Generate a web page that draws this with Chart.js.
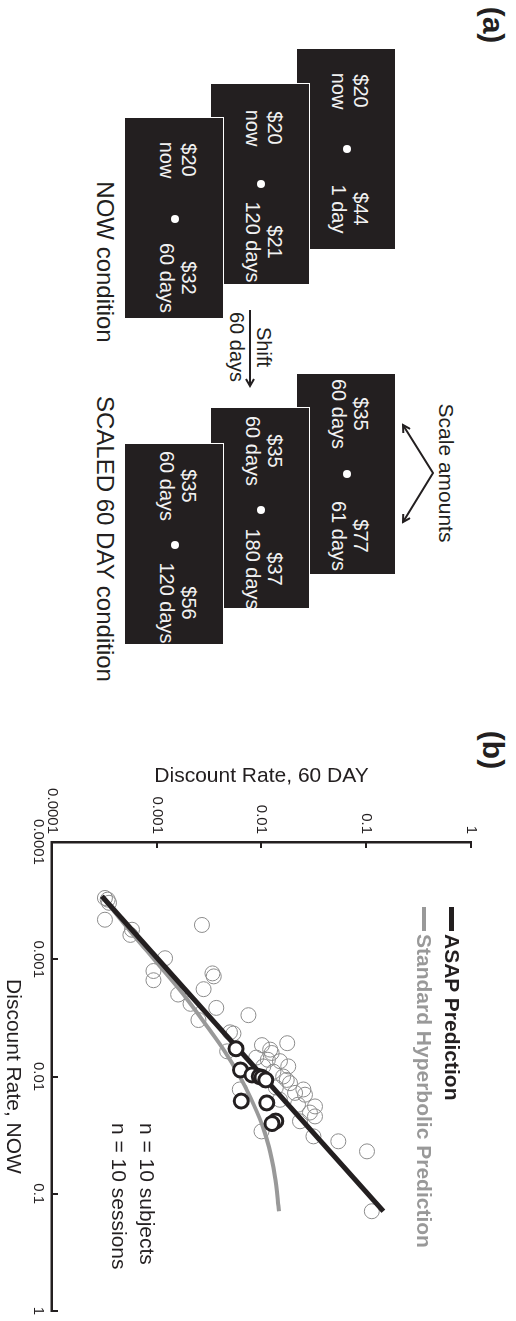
<!DOCTYPE html>
<html>
<head>
<meta charset="utf-8">
<script src="https://cdn.jsdelivr.net/npm/chart.js@4.4.1/dist/chart.umd.min.js"></script>
<style>
  html, body { margin: 0; padding: 0; background: #fff; overflow: hidden; }
  body { width: 516px; height: 1321px; position: relative; font-family: "Liberation Sans", Arial, Helvetica, sans-serif; color: #231f20; }
  /* the figure is laid out landscape, then turned a quarter clockwise */
  #fig { position: absolute; left: 0; top: 0; width: 1321px; height: 516px; transform-origin: 0 0; transform: translate(516px, 0) rotate(90deg); }
  .t { position: absolute; white-space: nowrap; line-height: 1; }
  .c { transform: translate(-50%, -50%); }
  .l { transform: translateY(-50%); }
  .panel { font-weight: bold; font-size: 30px; }
  .box { position: absolute; width: 202px; height: 100px; background: #231f20; box-sizing: border-box; border: 1.5px solid #fff; }
  .col { position: absolute; top: 23px; width: 100px; margin-left: -50px; text-align: center; color: #f2f2f2; font-size: 20px; line-height: 22px; }
  .dot { position: absolute; top: 44px; width: 8px; height: 8px; margin-left: -4px; border-radius: 50%; background: #fff; }
  .bar { position: absolute; left: 907px; width: 24px; }
  #rates { position: absolute; left: 700px; top: 0; width: 621px; height: 516px; }
</style>
</head>
<body>
<div id="fig">
  <div class="t c panel" style="left:25px;top:23px">(a)</div>
  <div class="t c panel" style="left:750px;top:23px">(b)</div>

  <!-- NOW condition -->
  <div class="box" style="left:48px;top:120px">
    <div class="col" style="left:42px">$20<br>now</div>
    <div class="dot" style="left:100px"></div>
    <div class="col" style="left:160px">$44<br>1 day</div>
  </div>
  <div class="box" style="left:83px;top:206px">
    <div class="col" style="left:44px">$20<br>now</div>
    <div class="dot" style="left:100px"></div>
    <div class="col" style="left:158px">$21<br>120 days</div>
  </div>
  <div class="box" style="left:117px;top:292px">
    <div class="col" style="left:42px">$20<br>now</div>
    <div class="dot" style="left:101px"></div>
    <div class="col" style="left:160px">$32<br>60 days</div>
  </div>
  <div class="t c" style="left:262px;top:411px;font-size:24px">NOW condition</div>

  <!-- shift arrow -->
  <div class="t c" style="left:347px;top:252px;font-size:20px">Shift</div>
  <div class="t c" style="left:347px;top:279px;font-size:20px">60 days</div>

  <!-- SCALED 60 DAY condition -->
  <div class="t c" style="left:473px;top:70px;font-size:21px">Scale amounts</div>
  <div class="box" style="left:373px;top:120px">
    <div class="col" style="left:40px">$35<br>60 days</div>
    <div class="dot" style="left:100px"></div>
    <div class="col" style="left:162px">$77<br>61 days</div>
  </div>
  <div class="box" style="left:407px;top:206px">
    <div class="col" style="left:43px">$35<br>60 days</div>
    <div class="dot" style="left:102px"></div>
    <div class="col" style="left:161px">$37<br>180 days</div>
  </div>
  <div class="box" style="left:443px;top:292px">
    <div class="col" style="left:42px">$35<br>60 days</div>
    <div class="dot" style="left:101px"></div>
    <div class="col" style="left:159px">$56<br>120 days</div>
  </div>
  <div class="t l" style="left:396px;top:411px;font-size:24px">SCALED 60 DAY condition</div>

  <svg width="1321" height="516" style="position:absolute;left:0;top:0;overflow:visible">
    <defs>
      <marker id="head" markerWidth="10" markerHeight="10" refX="8" refY="5" orient="auto-start-reverse" markerUnits="userSpaceOnUse">
        <path d="M1,1 L8,5 L1,9" fill="none" stroke="#231f20" stroke-width="2"/>
      </marker>
    </defs>
    <polyline points="425,113 473,83 522,113" fill="none" stroke="#231f20" stroke-width="2" marker-start="url(#head)" marker-end="url(#head)"/>
    <line x1="310" y1="266" x2="386" y2="266" stroke="#231f20" stroke-width="2" marker-end="url(#head)"/>
  </svg>

  <canvas id="rates" width="621" height="516"></canvas>

  <!-- legend and counts for panel (b) -->
  <div class="bar" style="top:61.5px;height:5px;background:#231f20"></div>
  <div class="t l" style="left:934px;top:63px;font-size:21px;font-weight:bold">ASAP Prediction</div>
  <div class="bar" style="top:90px;height:4px;background:#999"></div>
  <div class="t l" style="left:934px;top:91px;font-size:21px;font-weight:bold;color:#999">Standard Hyperbolic Prediction</div>
  <div class="t l" style="left:1123px;top:368px;font-size:21px">n = 10 subjects</div>
  <div class="t l" style="left:1123px;top:396px;font-size:21px">n = 10 sessions</div>
</div>

<script>
// ------------------------------------------------------------
// Discount rates: NOW condition (x) vs SCALED 60 DAY condition (y)
// ------------------------------------------------------------
const tickValues = [0.0001, 0.001, 0.01, 0.1, 1];
const tickLabels = ["0.0001", "0.001", "0.01", "0.1", "1"];

// single sessions (thin grey circles)
const sessionNow = [0.00030, 0.00031, 0.00033, 0.00046, 0.00056, 0.00062, 0.00051, 0.00098, 0.00126, 0.00151,
  0.00132, 0.0014, 0.0018, 0.0020, 0.0024, 0.0033, 0.0026, 0.0030, 0.0042, 0.0043,
  0.0061, 0.0054, 0.0059, 0.0063, 0.0052, 0.0074, 0.0082, 0.0082, 0.0091, 0.0100,
  0.0107, 0.0114, 0.0129, 0.0143, 0.0138, 0.0180, 0.0158, 0.0129, 0.0219, 0.0241,
  0.0324, 0.0294, 0.0357, 0.0435, 0.141, 0.0124, 0.0072, 0.0174, 0.0203, 0.0069];
const session60 = [0.00032, 0.00034, 0.00035, 0.00032, 0.00058, 0.00056, 0.0027, 0.0012, 0.00093, 0.00093,
  0.0034, 0.0035, 0.0028, 0.0016, 0.0021, 0.0025, 0.0037, 0.0075, 0.0050, 0.0054,
  0.0047, 0.0101, 0.0121, 0.0125, 0.0176, 0.0150, 0.0180, 0.0104, 0.0130, 0.0161,
  0.0174, 0.0187, 0.0251, 0.0260, 0.0209, 0.0324, 0.0150, 0.0062, 0.0324, 0.0233,
  0.0313, 0.0100, 0.0541, 0.1016, 0.113, 0.0137, 0.0115, 0.0223, 0.0290, 0.0089];

// subject averages (bold black circles)
const subjectNow = [0.0058, 0.0088, 0.0097, 0.0100, 0.0102, 0.0107, 0.0162, 0.0168, 0.0240, 0.0252];
const subject60 = [0.0057, 0.0063, 0.0081, 0.0095, 0.0101, 0.0110, 0.0064, 0.0112, 0.0137, 0.0126];

// ASAP prediction
const asapNow = [0.00029, 0.141];
const asap60 = [0.0003, 0.146];

// standard hyperbolic prediction
const hypNow = [0.00029, 0.0005, 0.001, 0.002, 0.004, 0.006, 0.01, 0.015, 0.025, 0.04, 0.07, 0.141];
const hyp60 = [0.0003, 0.00049, 0.00094, 0.0018, 0.0032, 0.0044, 0.0062, 0.0078, 0.0100, 0.0118, 0.0134, 0.0147];

const ink = "#231f20";
const pairs = (xs, ys) => xs.map((x, i) => ({ x: x, y: ys[i] }));

Chart.defaults.font.family = '"Liberation Sans", Arial, Helvetica, sans-serif';
Chart.defaults.color = ink;

// short tick marks pointing into the plot
const inwardTicks = {
  id: "inwardTicks",
  afterDraw(chart) {
    const { ctx, chartArea, scales } = chart;
    ctx.save();
    ctx.strokeStyle = ink;
    ctx.lineWidth = 2;
    tickValues.forEach((v) => {
      const px = Math.round(scales.x.getPixelForValue(v));
      ctx.beginPath();
      ctx.moveTo(px, chartArea.bottom);
      ctx.lineTo(px, chartArea.bottom - 6);
      ctx.stroke();
      const py = Math.round(scales.y.getPixelForValue(v));
      ctx.beginPath();
      ctx.moveTo(chartArea.left, py);
      ctx.lineTo(chartArea.left + 6, py);
      ctx.stroke();
    });
    ctx.restore();
  },
};

function logAxis(title, size, titlePad) {
  return {
    type: "logarithmic",
    min: 0.0001,
    max: 1,
    afterBuildTicks: (s) => { s.ticks = tickValues.map((v) => ({ value: v })); },
    afterFit: (s) => { if (s.isHorizontal()) s.height = size; else s.width = size; },
    ticks: {
      callback: (v, i) => tickLabels[i],
      font: { size: 15 },
      color: ink,
      padding: 5,
      autoSkip: false,
      maxRotation: 0,
    },
    grid: { display: true, drawOnChartArea: false, drawTicks: false },
    border: { display: true, color: ink, width: 2.5 },
    title: { display: true, text: title, font: { size: 21 }, color: ink, padding: titlePad },
  };
}

const yAxis = logAxis("Discount Rate, 60 DAY", 82, { top: 4, bottom: 0 });
yAxis.ticks.padding = 8;

new Chart(document.getElementById("rates"), {
  type: "scatter",
  data: {
    datasets: [
      {
        label: "subjects",
        data: pairs(subjectNow, subject60),
        pointRadius: 7,
        pointHoverRadius: 7,
        borderWidth: 3,
        borderColor: ink,
        backgroundColor: "#fff",
      },
      {
        label: "ASAP Prediction",
        data: pairs(asapNow, asap60),
        showLine: true,
        pointRadius: 0,
        borderColor: ink,
        borderWidth: 5,
      },
      {
        label: "Standard Hyperbolic Prediction",
        data: pairs(hypNow, hyp60),
        showLine: true,
        pointRadius: 0,
        borderColor: "#999",
        borderWidth: 4,
        cubicInterpolationMode: "monotone",
      },
      {
        label: "sessions",
        data: pairs(sessionNow, session60),
        pointRadius: 7.5,
        pointHoverRadius: 7.5,
        borderWidth: 1,
        borderColor: "#8c8c8c",
        backgroundColor: "rgba(0,0,0,0)",
      },
    ],
  },
  options: {
    responsive: false,
    animation: false,
    events: [],
    layout: { padding: { left: 60, top: 45, right: 9, bottom: 0 } },
    plugins: { legend: { display: false }, tooltip: { enabled: false } },
    scales: {
      x: logAxis("Discount Rate, NOW", 52, { top: 0, bottom: 0 }),
      y: yAxis,
    },
  },
  plugins: [inwardTicks],
});
</script>
</body>
</html>
